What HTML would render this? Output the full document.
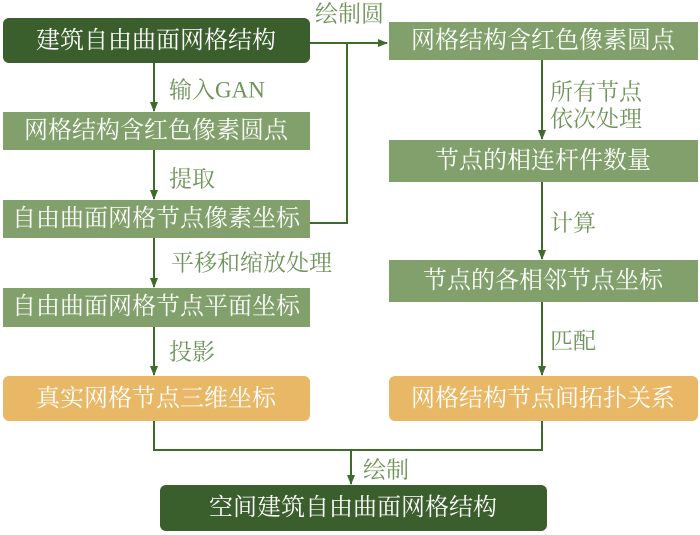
<!DOCTYPE html>
<html><head><meta charset="utf-8"><style>
html,body{margin:0;padding:0;background:#fff;}
svg{display:block;}
text{font-family:"Liberation Serif","Noto Serif CJK SC",serif;}
.b{fill:#fff;font-size:24px;text-anchor:middle;dominant-baseline:central;}
.l{fill:#6f9459;font-size:23px;dominant-baseline:central;}
</style></head><body>
<svg width="700" height="535" viewBox="0 0 700 535">
<defs><marker id="a" markerWidth="10" markerHeight="8" refX="9" refY="4" orient="auto" markerUnits="userSpaceOnUse"><path d="M0,0 L10,4 L0,8 Z" fill="#3d6b2a"/></marker></defs>
<g stroke="#3d6b2a" stroke-width="2" fill="none">
<line x1="310" y1="43" x2="387" y2="43" marker-end="url(#a)"/>
<polyline points="310,223 347,223 347,43"/>
<line x1="154" y1="63" x2="154" y2="111" marker-end="url(#a)"/>
<line x1="154" y1="150" x2="154" y2="199" marker-end="url(#a)"/>
<line x1="154" y1="238" x2="154" y2="287" marker-end="url(#a)"/>
<line x1="154" y1="327" x2="154" y2="375" marker-end="url(#a)"/>
<line x1="542" y1="60" x2="542" y2="139" marker-end="url(#a)"/>
<line x1="542" y1="182" x2="542" y2="259" marker-end="url(#a)"/>
<line x1="542" y1="302" x2="542" y2="375" marker-end="url(#a)"/>
<polyline points="154,421 154,450 542,450 542,421"/>
<line x1="351" y1="450" x2="351" y2="484" marker-end="url(#a)"/>
</g>
<rect x="3" y="18" width="307" height="45" rx="6" fill="#3b5e2d"/>
<text class="b" x="156" y="41">建筑自由曲面网格结构</text>
<rect x="3" y="112" width="307" height="38" fill="#81a06b"/>
<text class="b" x="156" y="131">网格结构含红色像素圆点</text>
<rect x="3" y="200" width="307" height="38" fill="#81a06b"/>
<text class="b" x="156" y="219">自由曲面网格节点像素坐标</text>
<rect x="3" y="288" width="307" height="39" fill="#81a06b"/>
<text class="b" x="156" y="307">自由曲面网格节点平面坐标</text>
<rect x="3" y="376" width="307" height="45" rx="6" fill="#e8b867"/>
<text class="b" x="156" y="399">真实网格节点三维坐标</text>
<rect x="389" y="22" width="309" height="38" fill="#81a06b"/>
<text class="b" x="543" y="41">网格结构含红色像素圆点</text>
<rect x="389" y="140" width="309" height="42" fill="#81a06b"/>
<text class="b" x="543" y="161">节点的相连杆件数量</text>
<rect x="389" y="260" width="309" height="42" fill="#81a06b"/>
<text class="b" x="543" y="281">节点的各相邻节点坐标</text>
<rect x="389" y="376" width="309" height="45" rx="6" fill="#e8b867"/>
<text class="b" x="543" y="399">网格结构节点间拓扑关系</text>
<rect x="160" y="485" width="387" height="46" rx="6" fill="#3b5e2d"/>
<text class="b" x="353" y="508">空间建筑自由曲面网格结构</text>
<text class="l" x="315" y="14">绘制圆</text>
<text class="l" x="169" y="90">输入GAN</text>
<text class="l" x="169" y="179">提取</text>
<text class="l" x="171" y="263">平移和缩放处理</text>
<text class="l" x="169" y="352">投影</text>
<text class="l" x="550" y="92">所有节点</text>
<text class="l" x="550" y="119">依次处理</text>
<text class="l" x="550" y="223">计算</text>
<text class="l" x="550" y="341">匹配</text>
<text class="l" x="363" y="470">绘制</text>
</svg>
</body></html>
